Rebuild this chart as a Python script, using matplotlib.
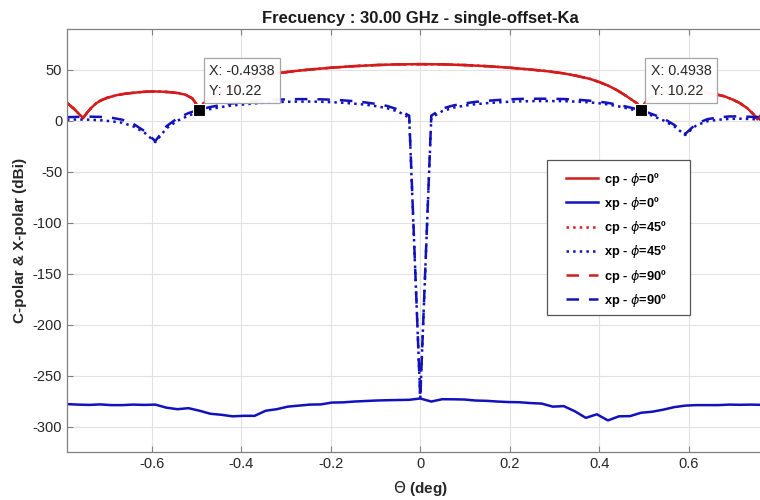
import matplotlib
matplotlib.use("Agg")
import matplotlib.pyplot as plt
from matplotlib.patches import Rectangle
import numpy as np

# ---------------- data ----------------
# co-polar sampling (deg) - left half; the right half mirrors it
theta_cp_left = [-0.79, -0.775, -0.765, -0.754, -0.745, -0.735, -0.725, -0.714, -0.70,
                 -0.68, -0.66, -0.64, -0.62, -0.60, -0.58, -0.56, -0.54, -0.525, -0.51,
                 -0.50, -0.4938, -0.485, -0.475, -0.46, -0.44, -0.42, -0.40, -0.38,
                 -0.35, -0.32, -0.28, -0.24, -0.20, -0.15, -0.10, -0.05]
cp_phi0_left = [17.4, 12.0, 7.5, 2.6, 8.0, 13.0, 17.0, 20.0, 22.5,
                25.0, 26.5, 27.5, 28.3, 28.7, 28.6, 28.0, 27.0, 25.5, 22.0,
                16.0, 10.22, 17.0, 20.0, 24.5, 29.0, 34.0, 37.5, 41.0,
                44.0, 46.5, 48.8, 50.5, 52.0, 53.5, 54.6, 55.3]
cp_phi0_center = 55.5
theta_cp_right = [0.05, 0.10, 0.15, 0.20, 0.24, 0.28, 0.32, 0.35, 0.38, 0.40, 0.42,
                  0.44, 0.46, 0.475, 0.485, 0.4938, 0.50, 0.51, 0.525, 0.54, 0.56,
                  0.58, 0.60, 0.62, 0.64, 0.66, 0.68, 0.70, 0.714, 0.731, 0.745,
                  0.754, 0.765, 0.775, 0.79]
cp_phi0_right = [55.3, 54.6, 53.5, 52.0, 50.5, 48.8, 46.5, 44.0, 41.0, 38.0, 34.5,
                 30.0, 24.5, 20.0, 17.0, 10.22, 16.0, 22.0, 25.5, 27.0, 28.0,
                 28.5, 28.6, 28.3, 27.5, 26.0, 24.0, 20.5, 17.5, 12.4, 6.5,
                 1.5, 7.0, 11.5, 16.0]

theta_cp = theta_cp_left + [0.0] + theta_cp_right
cp_phi0 = cp_phi0_left + [cp_phi0_center] + cp_phi0_right
cp_phi45 = list(cp_phi0)
cp_phi90 = list(cp_phi0)

# cross-polar sampling grid (deg)
theta_xp = [-0.7900, -0.7653, -0.7406, -0.7159, -0.6913, -0.6666, -0.6419, -0.6172,
            -0.5925, -0.5678, -0.5431, -0.5184, -0.4938, -0.4691, -0.4444, -0.4197,
            -0.3950, -0.3703, -0.3456, -0.3209, -0.2963, -0.2716, -0.2469, -0.2222,
            -0.1975, -0.1728, -0.1481, -0.1234, -0.0988, -0.0741, -0.0494, -0.0247,
            0.0000,
            0.0247, 0.0494, 0.0741, 0.0988, 0.1234, 0.1481, 0.1728, 0.1975,
            0.2222, 0.2469, 0.2716, 0.2963, 0.3209, 0.3456, 0.3703, 0.3950,
            0.4197, 0.4444, 0.4691, 0.4938, 0.5184, 0.5431, 0.5678, 0.5925,
            0.6172, 0.6419, 0.6666, 0.6913, 0.7159, 0.7406, 0.7653, 0.7900]

xp_phi0 = [-278.0, -278.5, -278.8, -278.3, -279.0, -279.0, -278.5, -278.8,
           -278.5, -281.5, -283.0, -282.0, -284.5, -287.5, -288.5, -290.0,
           -289.5, -289.5, -284.5, -283.0, -280.5, -279.5, -278.5, -278.3,
           -276.5, -276.3, -275.5, -275.0, -274.5, -274.2, -274.0, -273.8,
           -272.5,
           -275.5, -273.2, -273.3, -273.5, -274.5, -274.8, -275.5, -276.0,
           -276.2, -277.0, -277.5, -280.5, -280.0, -285.0, -291.5, -288.0,
           -294.0, -290.0, -289.8, -286.5, -285.5, -283.5, -281.0, -279.5,
           -279.0, -279.0, -279.0, -278.5, -278.7, -278.5, -278.8, -279.0]

xp_phi45 = [1.0, 1.2, 1.0, 0.5, -0.5, -2.0, -5.5, -11.5,
            -21.0, -7.5, 0.0, 5.0, 9.0, 11.5, 13.5, 15.0,
            16.0, 17.0, 17.8, 18.3, 18.6, 18.8, 18.8, 18.6,
            18.2, 17.6, 16.8, 15.8, 14.3, 12.3, 9.0, 3.0,
            -272.0,
            3.0, 9.5, 12.8, 14.8, 16.2, 17.2, 18.0, 18.6,
            19.0, 19.2, 19.3, 19.3, 19.2, 18.8, 18.2, 17.4,
            16.0, 14.0, 11.5, 9.0, 5.0, 0.5, -5.5, -14.0,
            -4.5, -0.5, 1.0, 1.8, 2.0, 1.6, 1.2, 1.0]

xp_phi90 = [3.5, 3.8, 4.0, 3.8, 3.0, 1.0, -3.0, -10.0,
            -20.0, -5.5, 2.5, 7.5, 11.0, 13.5, 15.5, 17.0,
            18.5, 19.5, 20.2, 20.7, 21.0, 21.2, 21.2, 21.0,
            20.6, 20.0, 19.2, 18.0, 16.5, 14.5, 11.0, 5.0,
            -272.0,
            5.0, 12.0, 15.0, 17.0, 18.5, 19.5, 20.3, 21.0,
            21.4, 21.6, 21.6, 21.5, 21.3, 20.8, 20.0, 19.0,
            17.5, 15.5, 13.0, 10.5, 6.5, 2.5, -4.0, -13.0,
            -3.0, 1.5, 3.3, 4.2, 4.3, 3.8, 3.5, 3.0]

tip_x = [-0.4938, 0.4938]
tip_y = [10.22, 10.22]

x_ticks = [-0.6, -0.4, -0.2, 0, 0.2, 0.4, 0.6]
x_tick_labels = ["-0.6", "-0.4", "-0.2", "0", "0.2", "0.4", "0.6"]
y_ticks = [-300, -250, -200, -150, -100, -50, 0, 50]
y_tick_labels = ["-300", "-250", "-200", "-150", "-100", "-50", "0", "50"]

labels = ["cp - $\\phi$=0º", "xp - $\\phi$=0º", "cp - $\\phi$=45º",
          "xp - $\\phi$=45º", "cp - $\\phi$=90º", "xp - $\\phi$=90º"]

title_txt = "Frecuency : 30.00 GHz - single-offset-Ka"

# ---------------- plot ----------------
plt.rcParams['font.family'] = ['Liberation Sans', 'DejaVu Sans']
plt.rcParams['mathtext.fontset'] = 'dejavusans'

RED = '#d41c1c'
BLUE = '#1212bd'

W, H = 760, 500
fig = plt.figure(figsize=(7.6, 5.0), dpi=100)
ax = fig.add_axes([67 / W, 1 - 452 / H, (773.5 - 67) / W, (452 - 29) / H])

ax.plot(theta_cp, cp_phi0, color=RED, lw=1.8, ls='-', label=labels[0])
ax.plot(theta_xp, xp_phi0, color=BLUE, lw=1.8, ls='-', label=labels[1])
ax.plot(theta_cp, cp_phi45, color=RED, lw=1.8, ls=':', label=labels[2])
ax.plot(theta_xp, xp_phi45, color=BLUE, lw=1.8, ls=':', label=labels[3])
ax.plot(theta_cp, cp_phi90, color=RED, lw=1.8, ls=(0, (5, 4)), label=labels[4])
ax.plot(theta_xp, xp_phi90, color=BLUE, lw=1.8, ls=(0, (5, 4)), label=labels[5])

ax.plot(tip_x, tip_y, ls='none', marker='s', ms=8, mfc='black', mec='white',
        mew=0.8, zorder=6)

ax.set_xlim(-0.79, 0.79)
ax.set_ylim(-325, 90)
ax.set_xticks(x_ticks)
ax.set_xticklabels(x_tick_labels)
ax.set_yticks(y_ticks)
ax.set_yticklabels(y_tick_labels)
ax.tick_params(direction='in', length=4, width=0.8, colors='#808080',
               labelcolor='#262626', labelsize=10.5, top=True, right=True)
ax.grid(True, color='#e2e2e2', lw=0.8)
ax.set_axisbelow(True)
for s in ax.spines.values():
    s.set_color('#808080')
    s.set_linewidth(0.9)

ax.set_title(title_txt, fontsize=12, fontweight='bold', color='#1a1a1a', pad=4)
ax.set_xlabel("$\\Theta$ (deg)", fontsize=11, fontweight='bold', color='#262626',
              labelpad=6)
ax.set_ylabel("C-polar & X-polar (dBi)", fontsize=11, fontweight='bold',
              color='#262626', labelpad=4)

# data tips
for xv, yv in zip(tip_x, tip_y):
    ax.annotate("X: %.4f\nY: %.2f" % (xv, yv), xy=(xv, yv), xytext=(7, 9),
                textcoords='offset points', fontsize=10.3, color='#262626',
                va='bottom', ha='left', linespacing=1.55, zorder=7,
                bbox=dict(boxstyle='square,pad=0.38', fc='white', ec='#a0a0a0',
                          lw=0.9, alpha=0.95))

# legend frame drawn separately so its size matches the reference box
frame = Rectangle((547 / W, 1 - 315 / H), (690 - 547) / W, (315 - 160) / H,
                  transform=fig.transFigure, clip_on=False, fc='white',
                  ec='#555555', lw=0.9, zorder=7)
ax.add_patch(frame)

leg = ax.legend(loc='upper left', bbox_to_anchor=(566 / W, 1 - 170.5 / H),
                bbox_transform=fig.transFigure, frameon=False,
                handlelength=2.5, labelspacing=0.57, borderpad=0.0,
                handletextpad=0.5, borderaxespad=0.0,
                prop={'weight': 'bold', 'size': 9.2})
leg.set_zorder(8)

fig.savefig("out.png", dpi=100)
